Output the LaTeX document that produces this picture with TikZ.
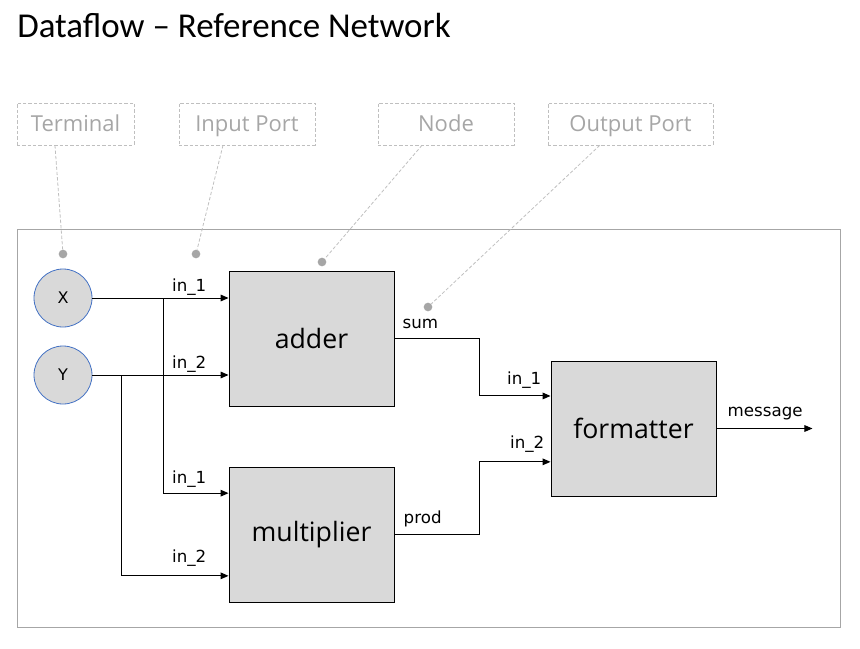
\documentclass[tikz,border=0pt]{standalone}
\usepackage{fontspec}
\setmainfont{Open Sans}
\newfontfamily\titlefont{Carlito}
\newfontfamily\portfont{DejaVu Sans}
\usetikzlibrary{arrows.meta, positioning, calc}
\definecolor{FrameGrey}{RGB}{166, 166, 166}
\definecolor{HintGrey}{RGB}{166, 166, 166}
\definecolor{HintLine}{RGB}{191, 191, 191}
\definecolor{BlockFill}{RGB}{217, 217, 217}
\definecolor{TermBlue}{RGB}{68, 114, 196}
\tikzset{
  block/.style={
    rectangle, draw=black, fill=BlockFill, line width=0.7pt,
    minimum width=123.75pt, minimum height=101.25pt,
    font=\fontsize{20}{24}\selectfont
  },
  terminal/.style={
    circle, draw=TermBlue, fill=BlockFill, line width=0.6pt,
    minimum size=43.5pt, inner sep=0pt,
    font=\portfont\fontsize{12}{14}\selectfont
  },
  hint/.style={
    rectangle, draw=HintLine, dash pattern=on 2.5pt off 1.5pt, text=HintGrey,
    minimum height=31.5pt, text height=13pt, text depth=1pt,
    font=\fontsize{16.5}{19}\selectfont
  },
  hintline/.style={HintLine, dash pattern=on 2.5pt off 1.5pt, line width=0.6pt},
  hintdot/.style={circle, fill=HintGrey, inner sep=0pt, minimum size=6.5pt},
  wire/.style={line width=0.75pt, -{Triangle[length=6pt, width=5pt]}},
  port/.style={font=\portfont\fontsize{12.5}{14}\selectfont, inner sep=0pt},
}

\begin{document}
\begin{tikzpicture}[x=0.75pt, y=-0.75pt]
\useasboundingbox (0,0) rectangle (860,649);

% Title
\node[anchor=base west, inner sep=0pt, font=\titlefont\fontsize{26.2}{30}\selectfont] (title) at (17,38) {Dataflow – Reference Network};

% Legend hints
\node[hint, minimum width=87.75pt] (hTerm) at (75.5,124) {Terminal};
\node[hint, minimum width=102pt] (hIn) at (247,124) {Input Port};
\node[hint, minimum width=102pt] (hNode) at (446,124) {Node};
\node[hint, minimum width=123.75pt] (hOut) at (630.5,124) {Output Port};

% Frame
\draw[FrameGrey, line width=0.6pt] (17,229) rectangle (840,627);

% Terminals and blocks
\node[terminal] (X) at (63,298) {X};
\node[terminal] (Y) at (63,375) {Y};
\node[block] (adder) at (311.5,338.5) {adder};
\node[block] (mult) at (311.5,534.5) {multiplier};
\node[block] (fmt) at (633.5,428.5) {formatter};

% Hint dots
\node[hintdot] (dTerm) at (63,254) {};
\node[hintdot] (dIn) at (196,254) {};
\node[hintdot] (dNode) at (322,262) {};
\node[hintdot] (dOut) at (428,307) {};
\draw[hintline] ([xshift=-15.4pt]hTerm.south) -- (dTerm);
\draw[hintline] ([xshift=-18pt]hIn.south) -- (dIn);
\draw[hintline] ([xshift=-18pt]hNode.south) -- (dNode);
\draw[hintline] ([xshift=-23pt]hOut.south) -- (dOut);

% Ports
\coordinate (xsplit) at (163,298);
\coordinate (ysplit) at (121,375);
\coordinate (adderIn1) at (adder.west |- X);
\coordinate (adderIn2) at (adder.west |- Y);
\coordinate (multIn1) at ([yshift=31pt]mult.west);
\coordinate (multIn2) at ([yshift=-31pt]mult.west);
\coordinate (fmtIn1) at ([yshift=24.4pt]fmt.west);
\coordinate (fmtIn2) at ([yshift=-25pt]fmt.west);
\coordinate (msgEnd) at ([xshift=72pt]fmt.east);

% Wires
\draw[wire] (X) -- (adderIn1);
\draw[wire] (Y) -- (adderIn2);
\draw[wire] (xsplit) |- (multIn1);
\draw[wire] (ysplit) |- (multIn2);
\draw[wire] (adder.east) -- ++(85,0) |- (fmtIn1);
\draw[wire] (mult.east) -- ++(85,0) |- (fmtIn2);
\draw[wire] (fmt.east) -- (msgEnd);

% Port labels
\node[port, anchor=base east] (lA1) at ($(adderIn1)+(-22,-7)$) {in\_1};
\node[port, anchor=base east] (lA2) at ($(adderIn2)+(-22,-7)$) {in\_2};
\node[port, anchor=base east] (lM1) at ($(multIn1)+(-22,-10)$) {in\_1};
\node[port, anchor=base east] (lM2) at ($(multIn2)+(-22,-13)$) {in\_2};
\node[port, anchor=base east] (lF1) at ($(fmtIn1)+(-9,-11)$) {in\_1};
\node[port, anchor=base east] (lF2) at ($(fmtIn2)+(-6,-13)$) {in\_2};
\node[port, anchor=base west] (lSum) at ($(adder.east)+(8,-10)$) {sum};
\node[port, anchor=base west] (lProd) at ($(mult.east)+(9,-11)$) {prod};
\node[port, anchor=base west] (lMsg) at ($(fmt.east)+(11,-12)$) {message};
\end{tikzpicture}
\end{document}
